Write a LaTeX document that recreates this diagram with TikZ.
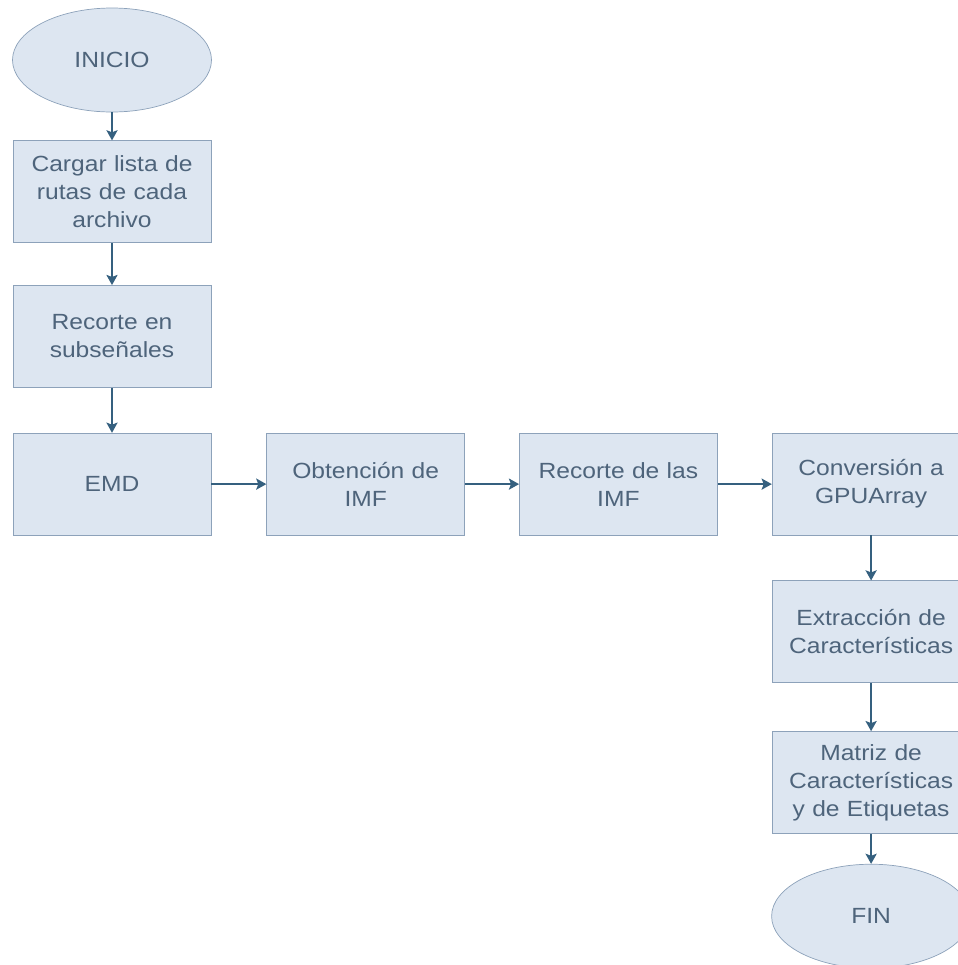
\documentclass[tikz,border=0pt]{standalone}
\usepackage{fontspec}
\setmainfont{Liberation Sans}[FakeStretch=1.12]
\usetikzlibrary{shapes.geometric, arrows.meta, positioning}
\definecolor{boxfill}{HTML}{DDE6F1}
\definecolor{boxline}{HTML}{8DA2BA}
\definecolor{boxtext}{HTML}{4E647B}
\definecolor{arrowline}{HTML}{35607F}
\tikzstyle{startstop} = [ellipse, minimum width=3.98cm, minimum height=2.08cm, text centered, draw=boxline, fill=boxfill, text=boxtext]
\tikzstyle{process} = [rectangle, minimum width=3.96cm, minimum height=2.04cm, text centered, text width=3.6cm, draw=boxline, fill=boxfill, text=boxtext]
\tikzstyle{arrow} = [thick,->,>={Stealth[length=5.8pt,width=6.4pt,inset=1.2pt]}, draw=arrowline]

\begin{document}
\begin{tikzpicture}[font=\fontsize{12.5}{16}\selectfont]
\useasboundingbox (0,0) rectangle (19.16,-19.3);

\node (start) [startstop] at (2.24,-1.2) {INICIO};

\node (load) [process, below=0.56cm of start] {Cargar lista de\\ rutas de cada\\ archivo};
\node (cut) [process, below=0.84cm of load] {Recorte en\\ subseñales};

\node (emd) [process, below=0.9cm of cut] {EMD};
\node (imf) [process, right=1.1cm of emd] {Obtención de\\ IMF};
\node (cutimf) [process, right=1.08cm of imf] {Recorte de las\\ IMF};
\node (gpu) [process, right=1.08cm of cutimf] {Conversión a\\ GPUArray};

\node (feat) [process, below=0.9cm of gpu] {Extracción de\\ Características};
\node (matrix) [process, below=0.96cm of feat] {Matriz de\\ Características\\ y de Etiquetas};

\node (end) [startstop, below=0.6cm of matrix] {FIN};

\draw [arrow] (start) -- (load);
\draw [arrow] (load) -- (cut);
\draw [arrow] (cut) -- (emd);
\draw [arrow] (emd) -- (imf);
\draw [arrow] (imf) -- (cutimf);
\draw [arrow] (cutimf) -- (gpu);
\draw [arrow] (gpu) -- (feat);
\draw [arrow] (feat) -- (matrix);
\draw [arrow] (matrix) -- (end);
\end{tikzpicture}
\end{document}
